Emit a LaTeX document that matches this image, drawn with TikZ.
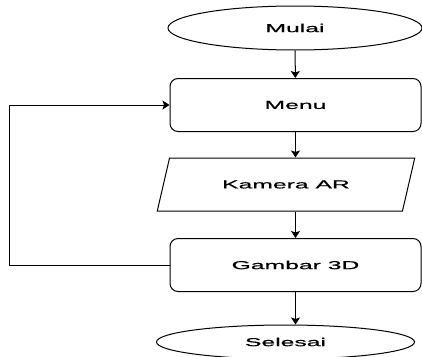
\documentclass[tikz,border=0pt]{standalone}
\usepackage{fontspec}
\setmainfont[FakeStretch=2.15,FakeBold=0.8]{Liberation Sans}
\usetikzlibrary{shapes.geometric,arrows.meta}

\begin{document}
\begin{tikzpicture}[x=1pt,y=-1pt,
        line width=1pt,
        font=\fontsize{11.5}{13}\selectfont,
        terminal/.style={draw,ellipse,inner sep=0pt},
        proses/.style={draw,rectangle,rounded corners=8pt,minimum width=251pt,minimum height=53pt},
        data/.style={draw,trapezium,trapezium left angle=50,trapezium right angle=130,
            trapezium stretches=true,minimum width=258pt,minimum height=53pt,inner sep=0pt},
        panah/.style={-{Stealth[length=7pt,width=9pt,inset=1.5pt]}}]
        \useasboundingbox (0,0) rectangle (422,356);
        \node[terminal,minimum width=254pt,minimum height=44pt] (mulai) at (295,28) {Mulai};
        \node[proses] (menu) at (295.5,105) {Menu};
        \node[data] (kamera) at (286,184.5) {Kamera AR};
        \node[proses] (gambar) at (295.5,265) {Gambar 3D};
        \node[terminal,minimum width=258pt,minimum height=34pt] (selesai) at (285.5,342) {Selesai};
        \coordinate (balik) at (9,265);
        \draw[panah] (mulai) -- (menu);
        \draw[panah] (menu.south) -- (menu.south |- kamera.north);
        \draw[panah] (kamera.south -| menu.south) -- (gambar.north);
        \draw[panah] (gambar.south) -- (gambar.south |- selesai.north);
        \draw[panah] (gambar.west) -- (balik) |- (menu.west);
\end{tikzpicture}
\end{document}
